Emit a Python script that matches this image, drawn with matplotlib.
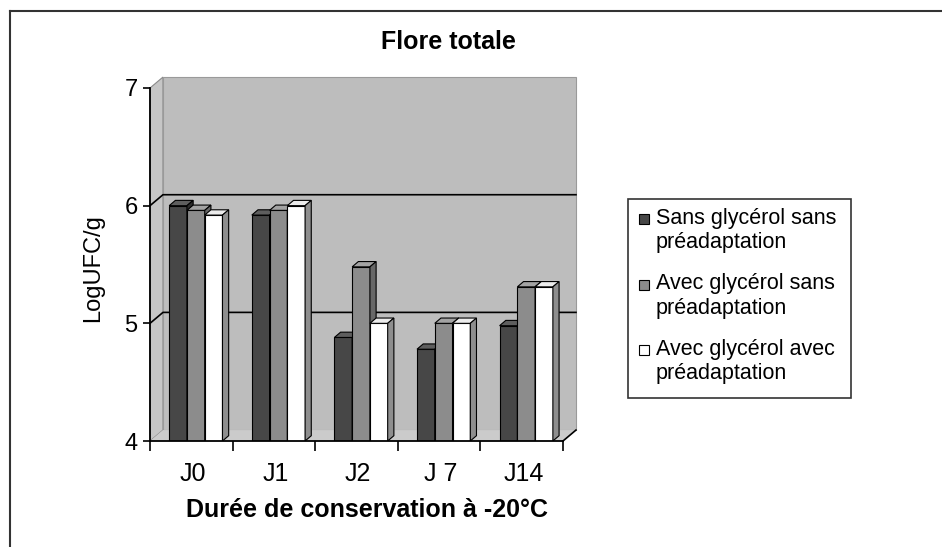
import matplotlib
matplotlib.use("Agg")
import matplotlib.pyplot as plt
from matplotlib.patches import Polygon, Rectangle
from matplotlib.lines import Line2D

# ---------------- data ----------------
categories = ["J0", "J1", "J2", "J 7", "J14"]
series_names = ["Sans glycérol sans\npréadaptation",
                "Avec glycérol sans\npréadaptation",
                "Avec glycérol avec\npréadaptation"]
sans_glycerol_sans_preadapt = [6.00, 5.92, 4.88, 4.78, 4.98]
avec_glycerol_sans_preadapt = [5.96, 5.96, 5.48, 5.00, 5.31]
avec_glycerol_avec_preadapt = [5.92, 6.00, 5.00, 5.00, 5.31]
y_ticks = [4, 5, 6, 7]
title = "Flore totale"
xlabel = "Durée de conservation à -20°C"
ylabel = "LogUFC/g"

series = [sans_glycerol_sans_preadapt, avec_glycerol_sans_preadapt, avec_glycerol_avec_preadapt]

# ---------------- style ----------------
plt.rcParams['font.family'] = ['Liberation Sans', 'DejaVu Sans']
front_cols = ["#474747", "#8c8c8c", "#ffffff"]
top_cols = ["#5e5e5e", "#a3a3a3", "#ececec"]
side_cols = ["#2c2c2c", "#686868", "#8e8e8e"]
wall_col = "#bdbdbd"
side_wall_col = "#c6c6c6"
floor_col = "#cbcbcb"

W, H = 942, 547
fig = plt.figure(figsize=(W / 100, H / 100), dpi=100)
ax = fig.add_axes([150 / W, (H - 441) / H, 413 / W, 353 / H])
ymin, ymax = y_ticks[0], y_ticks[-1]
n = len(categories)
ax.set_xlim(0, n)
ax.set_ylim(ymin, ymax)
ax.patch.set_visible(False)

DX, DY = 0.157, 0.093     # depth offset of the chart box
bdx, bdy = 0.075, 0.045   # depth offset of the bars

# walls
ax.add_patch(Polygon([(0, ymin), (DX, ymin + DY), (DX, ymax + DY), (0, ymax)],
                     closed=True, facecolor=side_wall_col, edgecolor="#8a8a8a",
                     lw=0.8, zorder=0.5, clip_on=False))
ax.add_patch(Polygon([(DX, ymin + DY), (n + DX, ymin + DY), (n + DX, ymax + DY), (DX, ymax + DY)],
                     closed=True, facecolor=wall_col, edgecolor="#9a9a9a",
                     lw=0.8, zorder=0.5, clip_on=False))
ax.add_patch(Polygon([(0, ymin), (n, ymin), (n + DX, ymin + DY), (DX, ymin + DY)],
                     closed=True, facecolor=floor_col, edgecolor="none",
                     zorder=0.6, clip_on=False))
# gridlines
for v in y_ticks[1:-1]:
    ax.plot([0, DX, n + DX], [v, v + DY, v + DY], color="black", lw=1.2,
            zorder=1, clip_on=False)
ax.plot([n, n + DX], [ymin, ymin + DY], color="black", lw=1.2, zorder=1, clip_on=False)

# bars
width = 0.215
shift = 0.055
for k, vals in enumerate(series):
    xs = [i + 0.5 + shift + (k - 1) * width for i in range(n)]
    heights = [v - ymin for v in vals]
    ax.bar(xs, heights, bottom=ymin, width=width, color=front_cols[k],
           edgecolor="black", lw=0.8, zorder=3 + k)
    for x, v in zip(xs, vals):
        l, r = x - width / 2, x + width / 2
        ax.add_patch(Polygon([(l, v), (r, v), (r + bdx, v + bdy), (l + bdx, v + bdy)],
                             closed=True, facecolor=top_cols[k], edgecolor="black",
                             lw=0.8, zorder=3.5 + k))
        ax.add_patch(Polygon([(r, ymin), (r + bdx, ymin + bdy), (r + bdx, v + bdy), (r, v)],
                             closed=True, facecolor=side_cols[k], edgecolor="black",
                             lw=0.8, zorder=3.5 + k))

# axes
for s in ["top", "right"]:
    ax.spines[s].set_visible(False)
for s in ["left", "bottom"]:
    ax.spines[s].set_linewidth(1.3)
    ax.spines[s].set_zorder(10)
ax.set_yticks(y_ticks)
ax.set_yticklabels([str(t) for t in y_ticks], fontsize=17)
ax.tick_params(axis="y", direction="out", length=5, width=1.2, pad=4)
ax.set_xticks(range(n + 1))
ax.set_xticklabels([])
ax.tick_params(axis="x", which="major", direction="out", length=7, width=1.2)
ax.set_xticks([i + 0.52 for i in range(n)], minor=True)
ax.set_xticklabels(categories, minor=True, fontsize=18)
ax.tick_params(axis="x", which="minor", length=0, pad=15)

# texts
fig.text(448 / W, 1 - 42 / H, title, fontsize=18, weight="bold", ha="center", va="center")
fig.text(367 / W, 1 - 510 / H, xlabel, fontsize=18, weight="bold", ha="center", va="center")
fig.text(93 / W, 1 - 268 / H, ylabel, fontsize=17, rotation=90, ha="center", va="center")

# legend
fig.patches.append(Rectangle((628 / W, 1 - 398 / H), 223 / W, 199 / H,
                             transform=fig.transFigure, facecolor="white",
                             edgecolor="#333333", lw=1.2))
for k, name in enumerate(series_names):
    y_first = 219 + k * 65.5
    fig.patches.append(Rectangle((639 / W, 1 - (y_first + 5) / H), 10 / W, 10 / H,
                                 transform=fig.transFigure, facecolor=front_cols[k],
                                 edgecolor="black", lw=0.8))
    fig.text(656 / W, 1 - (y_first - 11) / H, name, fontsize=15.5, ha="left", va="top",
             linespacing=1.2)

# outer frame (top and left edges)
fig.add_artist(Line2D([10 / W, 1], [1 - 11 / H, 1 - 11 / H], transform=fig.transFigure,
                      color="#333333", lw=1.5))
fig.add_artist(Line2D([10 / W, 10 / W], [1 - 11 / H, 0], transform=fig.transFigure,
                      color="#333333", lw=1.5))

fig.savefig("out.png", dpi=100)
